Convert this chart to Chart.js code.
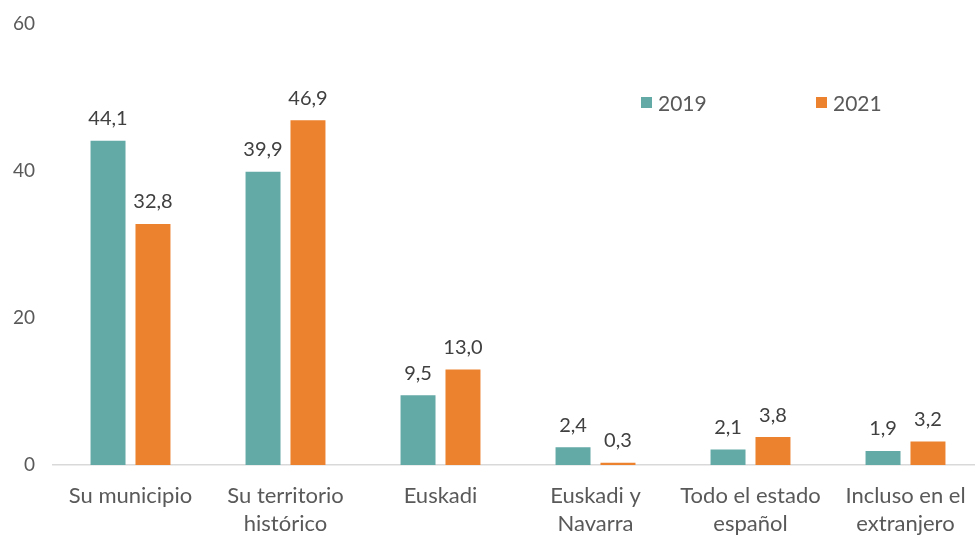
<!DOCTYPE html>
<html>
<head>
<meta charset="utf-8">
<script src="https://cdn.jsdelivr.net/npm/chart.js@4.4.1/dist/chart.umd.min.js"></script>
<style>
  html, body { margin: 0; padding: 0; background: #fff; overflow: hidden; }
  #wrap { width: 975px; height: 535px; overflow: hidden; position: relative; }
  #box { width: 983px; height: 545px; position: absolute; left: 0; top: 0; }
</style>
</head>
<body>
<div id="wrap"><div id="box"><canvas id="c"></canvas></div></div>
<script>
const categories = [
  ["Su municipio"],
  ["Su territorio", "histórico"],
  ["Euskadi"],
  ["Euskadi y", "Navarra"],
  ["Todo el estado", "español"],
  ["Incluso en el", "extranjero"]
];
const seriesNames = ["2019", "2021"];
const values2019 = [44.1, 39.9, 9.5, 2.4, 2.1, 1.9];
const values2021 = [32.8, 46.9, 13.0, 0.3, 3.8, 3.2];
const yTicks = [0, 20, 40, 60];

const TEAL = "#63A9A6";
const ORANGE = "#EC822E";
const FONT = "Lato, 'Open Sans', sans-serif";

const dataLabels = {
  id: "dataLabels",
  afterDatasetsDraw(chart) {
    const ctx = chart.ctx;
    ctx.save();
    ctx.font = "20px " + FONT;
    ctx.fillStyle = "#404040";
    ctx.textAlign = "center";
    ctx.textBaseline = "bottom";
    chart.data.datasets.forEach((ds, i) => {
      chart.getDatasetMeta(i).data.forEach((bar, j) => {
        const txt = ds.data[j].toFixed(1).replace(".", ",");
        ctx.fillText(txt, bar.x, bar.y - 12);
      });
    });
    ctx.restore();
  }
};

const customLegend = {
  id: "customLegend",
  afterDraw(chart) {
    const ctx = chart.ctx;
    const items = [
      { x: 641, label: seriesNames[0], color: TEAL },
      { x: 816, label: seriesNames[1], color: ORANGE }
    ];
    ctx.save();
    ctx.font = "21px " + FONT;
    ctx.textBaseline = "middle";
    ctx.textAlign = "left";
    items.forEach(it => {
      ctx.fillStyle = it.color;
      ctx.fillRect(it.x, 97, 11, 11);
      ctx.fillStyle = "#595959";
      ctx.fillText(it.label, it.x + 17, 104);
    });
    ctx.restore();
  }
};

new Chart(document.getElementById("c"), {
  type: "bar",
  data: {
    labels: categories,
    datasets: [
      { label: seriesNames[0], data: values2019, backgroundColor: TEAL,
        barPercentage: 0.778, categoryPercentage: 0.58 },
      { label: seriesNames[1], data: values2021, backgroundColor: ORANGE,
        barPercentage: 0.778, categoryPercentage: 0.58 }
    ]
  },
  options: {
    responsive: true,
    maintainAspectRatio: false,
    animation: false,
    layout: { padding: { top: 24, left: 0, right: 0, bottom: 0 } },
    plugins: {
      legend: { display: false },
      tooltip: { enabled: false }
    },
    scales: {
      x: {
        grid: { display: false, drawTicks: false },
        border: { display: true, color: "#D9D9D9", width: 1.5 },
        ticks: {
          color: "#595959",
          font: { family: FONT, size: 22, lineHeight: 1.28 },
          padding: 17,
          maxRotation: 0,
          autoSkip: false
        },
        afterFit(scale) { scale.height = 80; }
      },
      y: {
        min: 0, max: 60,
        afterBuildTicks(scale) { scale.ticks = yTicks.map(v => ({ value: v })); },
        grid: { display: false, drawTicks: false },
        border: { display: false },
        ticks: {
          color: "#595959",
          font: { family: FONT, size: 19 },
          padding: 18
        },
        afterFit(scale) {
          scale.width = 53;
          scale.paddingTop = 0;
          scale.paddingBottom = 0;
        }
      }
    }
  },
  plugins: [dataLabels, customLegend]
});
</script>
</body>
</html>
